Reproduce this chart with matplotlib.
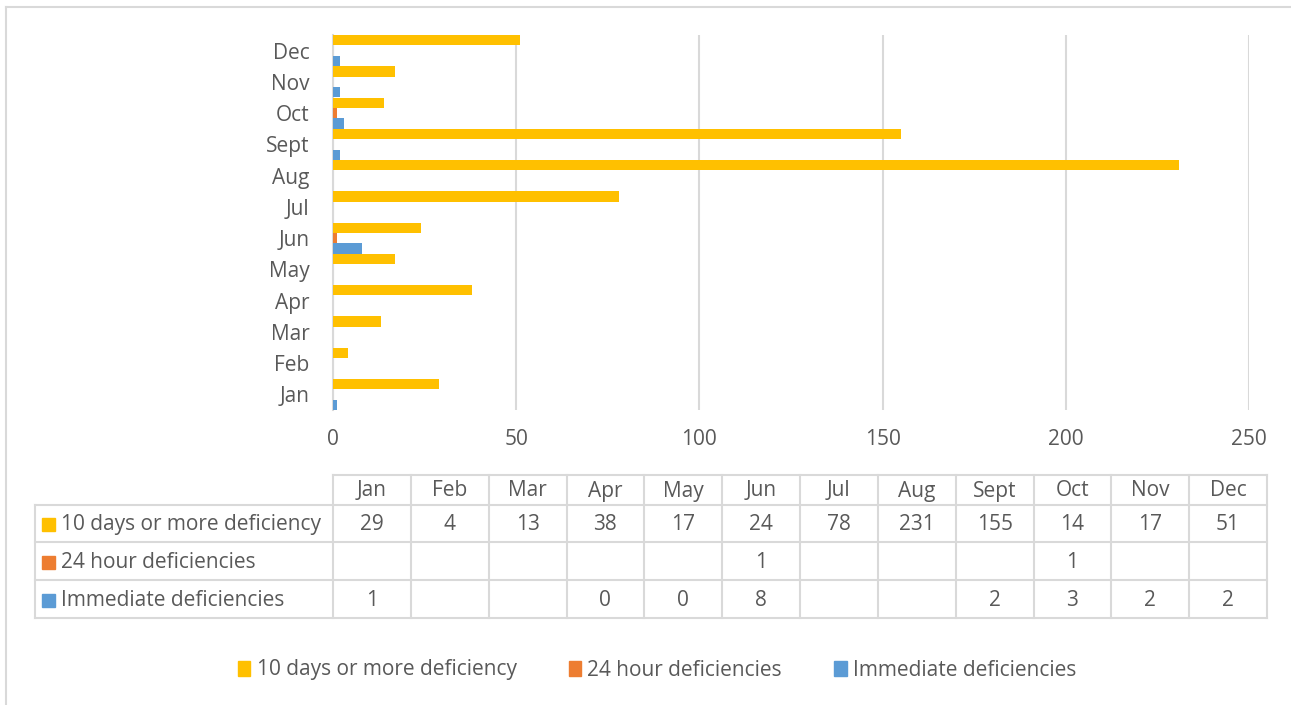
import numpy as np
from matplotlib import pyplot as plt
from matplotlib.patches import Rectangle

months = ["Jan", "Feb", "Mar", "Apr", "May", "Jun", "Jul", "Aug", "Sept", "Oct", "Nov", "Dec"]
series_names = ["10 days or more deficiency", "24 hour deficiencies", "Immediate deficiencies"]
ten_days = [29, 4, 13, 38, 17, 24, 78, 231, 155, 14, 17, 51]
hour24 = [None, None, None, None, None, 1, None, None, None, 1, None, None]
immediate = [1, None, None, 0, 0, 8, None, None, 2, 3, 2, 2]
x_ticks = [0, 50, 100, 150, 200, 250]

colors = ["#FFC000", "#ED7D31", "#5B9BD5"]
text_color = "#595959"
grid_color = "#D9D9D9"
W, H = 1291, 705
fs = 15

plt.rcParams['font.family'] = ['Open Sans', 'DejaVu Sans']

fig = plt.figure(figsize=(W / 100, H / 100), dpi=100)

# overlay in pixel coords for the border, data table and legend
ov = fig.add_axes([0, 0, 1, 1])
ov.set_xlim(0, W)
ov.set_ylim(H, 0)
ov.axis('off')
ov.plot([6, W + 5], [7, 7], color=grid_color, lw=1.5)
ov.plot([6, 6], [7, H + 5], color=grid_color, lw=1.5)

# bar chart
x0, x1, y0, y1 = 333, 1249, 35, 410
ax = fig.add_axes([x0 / W, 1 - y1 / H, (x1 - x0) / W, (y1 - y0) / H])
ypos = np.arange(len(months))
bh = 0.33
series = [ten_days, hour24, immediate]
for i, (vals, col) in enumerate(zip(series, colors)):
    v = [0 if s is None else s for s in vals]
    ax.barh(ypos + (1 - i) * bh, v, height=bh, color=col, zorder=3)
ax.set_xlim(0, 250)
ax.set_ylim(-0.5, len(months) - 0.5)
ax.set_xticks(x_ticks)
ax.set_yticks(ypos)
ax.set_yticklabels(months)
ax.grid(axis='x', color=grid_color, lw=1.5, zorder=0)
for s in ['top', 'right', 'bottom']:
    ax.spines[s].set_visible(False)
ax.spines['left'].set_color(grid_color)
ax.spines['left'].set_linewidth(1.5)
ax.tick_params(length=0, labelsize=fs, colors=text_color)
ax.tick_params(axis='y', pad=17)
ax.tick_params(axis='x', pad=14)

# data table
col_edges = np.linspace(333, 1267, len(months) + 1)
row_edges = [475, 505, 542, 580, 618]
lab_left = 35
lc = dict(color=grid_color, lw=1.5)
ov.plot([col_edges[0], col_edges[-1]], [row_edges[0]] * 2, **lc)
for y in row_edges[1:]:
    ov.plot([lab_left, col_edges[-1]], [y, y], **lc)
for x in col_edges:
    ov.plot([x, x], [row_edges[0], row_edges[-1]], **lc)
ov.plot([lab_left, lab_left], [row_edges[1], row_edges[-1]], **lc)
for j, m in enumerate(months):
    xc = (col_edges[j] + col_edges[j + 1]) / 2
    ov.text(xc, (row_edges[0] + row_edges[1]) / 2 + 1, m, ha='center', va='center',
            fontsize=fs, color=text_color)
for i, (name, vals, col) in enumerate(zip(series_names, series, colors)):
    yc = (row_edges[i + 1] + row_edges[i + 2]) / 2 + 1
    ov.add_patch(Rectangle((42, yc - 6.5), 13, 13, color=col))
    ov.text(61, yc, name, ha='left', va='center', fontsize=fs, color=text_color)
    for j, v in enumerate(vals):
        if v is None:
            continue
        xc = (col_edges[j] + col_edges[j + 1]) / 2
        ov.text(xc, yc, str(v), ha='center', va='center', fontsize=fs, color=text_color)

# legend
handles = [Rectangle((0, 0), 1, 1, color=c) for c in colors]
fig.legend(handles, series_names, loc='center', bbox_to_anchor=(657 / W, 1 - 670 / H),
           ncol=3, frameon=False, fontsize=fs, labelcolor=text_color,
           handlelength=0.6, handleheight=0.7, handletextpad=0.3, columnspacing=2.5)

fig.savefig("out.png", dpi=100)
